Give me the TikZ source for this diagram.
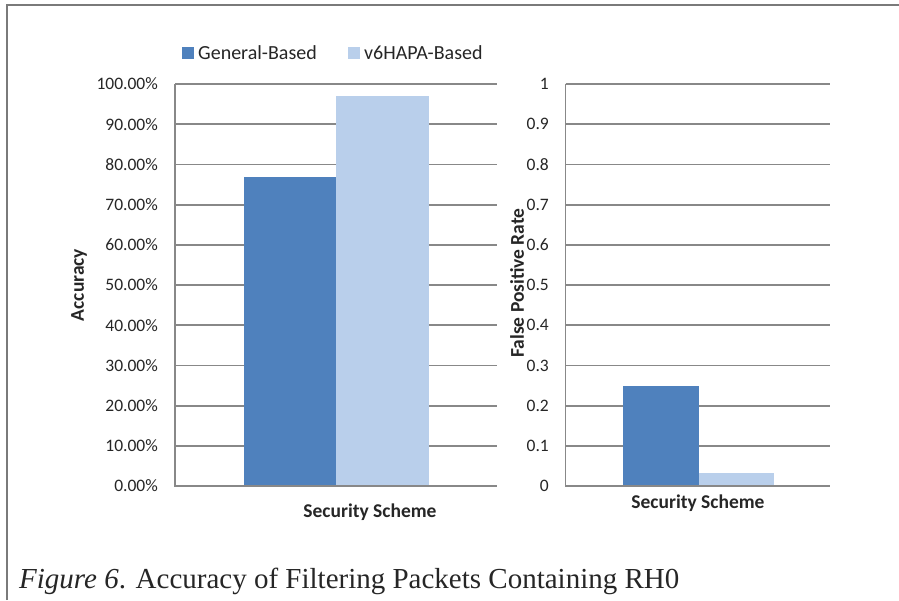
\documentclass[tikz,border=0pt]{standalone}
\usepackage{fontspec}
\setmainfont{Carlito}
\newfontfamily\capfont{Liberation Serif}
\definecolor{genblue}{HTML}{4F81BD}
\definecolor{v6blue}{HTML}{B9CFEB}
\definecolor{gridgray}{HTML}{888888}
\definecolor{txt}{HTML}{262626}
\begin{document}
\begin{tikzpicture}[x=1pt,y=-1pt,
  grid/.style={draw=gridgray,line width=1.8pt},
  ticklab/.style={anchor=east,inner sep=0pt,text=txt,font=\fontsize{17.5}{17.5}\selectfont},
  axtitle/.style={inner sep=0pt,text=txt,font=\fontsize{19.5}{19.5}\selectfont\bfseries},
  legtext/.style={anchor=base west,inner sep=0pt,text=txt,font=\fontsize{20}{20}\selectfont},
  barA/.style={fill=genblue,draw=none},
  barB/.style={fill=v6blue,draw=none}]
\useasboundingbox (0,0) rectangle (899,600);
\fill[white] (0,0) rectangle (899,600);
% frame
\draw[draw=gridgray!90!black,line width=2pt] (7,600) -- (7,5) -- (899,5);
% legend
\fill[genblue] (182,47) rectangle (194,59);
\node[legtext] (lgA) at (198,59) {General-Based};
\fill[v6blue] (348,47) rectangle (360,59);
\node[legtext] (lgB) at (364,59) {v6HAPA-Based};
% left chart grid
\foreach \i in {0,...,10} {
  \pgfmathsetmacro{\yy}{486-40.2*\i}
  \draw[grid] (175,\yy) -- (497,\yy);
}
\foreach \i/\lab in {0/0.00\%,1/10.00\%,2/20.00\%,3/30.00\%,4/40.00\%,5/50.00\%,6/60.00\%,7/70.00\%,8/80.00\%,9/90.00\%,10/100.00\%} {
  \pgfmathsetmacro{\yy}{486-40.2*\i}
  \node[ticklab] at (158,\yy) {\lab};
}
\fill[barA] (244,486) rectangle (336,176.5);
\fill[barB] (336,486) rectangle (429,96);
\draw[grid] (175,486) -- (497,486);
\draw[grid] (175,83.5) -- (175,487);
\node[axtitle,rotate=90] (accl) at (79,285) {Accuracy};
\node[axtitle] (ssl) at (370,512) {Security Scheme};
% right chart
\foreach \i in {0,...,10} {
  \pgfmathsetmacro{\yy}{486-40.2*\i}
  \draw[grid] (565.5,\yy) -- (830,\yy);
}
\foreach \i/\lab in {0/0,1/0.1,2/0.2,3/0.3,4/0.4,5/0.5,6/0.6,7/0.7,8/0.8,9/0.9,10/1} {
  \pgfmathsetmacro{\yy}{486-40.2*\i}
  \node[ticklab] at (549,\yy) {\lab};
}
\fill[barA] (623,486) rectangle (699,385.5);
\fill[barB] (699,486) rectangle (774,473);
\draw[grid] (565.5,486) -- (830,486);
\draw[grid] (565.5,83.5) -- (565.5,487);
\node[axtitle,rotate=90] (fpr) at (517,283) {False Positive Rate};
\node[axtitle] (ssr) at (698,503) {Security Scheme};
% caption
\node[anchor=base west,inner sep=0pt,text=txt,font=\capfont\fontsize{29}{29}\selectfont] (cap) at (19,588) {{\itshape Figure 6}. Accuracy of Filtering Packets Containing RH0};
\end{tikzpicture}
\end{document}
